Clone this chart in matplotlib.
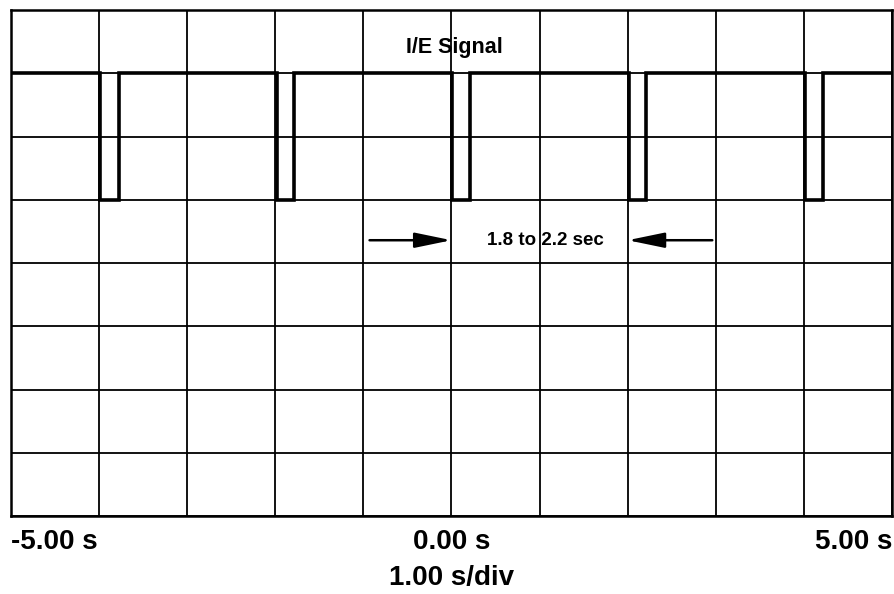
import numpy as np
import matplotlib
matplotlib.use("Agg")
import matplotlib.pyplot as plt

plt.rcParams['font.family'] = ['Liberation Sans', 'DejaVu Sans']

# ---- data ----
t_start, t_end = -5.0, 5.0
level_high = 3.0
level_low = 1.0
pulse_fall = [-3.99, -1.98, 0.01, 2.01, 4.01]
pulse_rise = [-3.77, -1.79, 0.21, 2.21, 4.22]
tick_values = [-5, 0, 5]
tick_labels = ["-5.00 s", "0.00 s", "5.00 s"]
x_label = "1.00 s/div"
signal_label = "I/E Signal"
period_label = "1.8 to 2.2 sec"
period_marks = [0.0, 2.0]

# build step waveform
xs = [t_start]
ys = [level_high]
for f, r in zip(pulse_fall, pulse_rise):
    xs += [f, f, r, r]
    ys += [level_high, level_low, level_low, level_high]
xs.append(t_end)
ys.append(level_high)

fig = plt.figure(figsize=(8.95, 5.94), dpi=100)
ax = fig.add_axes([11/895, 1 - 516/594, 881/895, 506/594])
ax.set_xlim(-5, 5)
ax.set_ylim(-4, 4)

ax.set_xticks(np.arange(-5, 6, 1))
ax.set_yticks(np.arange(-4, 5, 1))
ax.set_xticklabels([tick_labels[tick_values.index(v)] if v in tick_values else ""
                    for v in range(-5, 6)])
ax.set_yticklabels([])
ax.tick_params(length=0, pad=9.5, labelsize=20)
for lab in ax.get_xticklabels():
    lab.set_fontweight('bold')
labs = ax.get_xticklabels()
labs[0].set_ha('left')
labs[-1].set_ha('right')
ax.grid(True, color='black', lw=1.3)
ax.set_axisbelow(True)
for s in ax.spines.values():
    s.set_linewidth(1.8)

ax.set_xlabel(x_label, fontsize=20, fontweight='bold', labelpad=7)

ax.plot(xs, ys, color='black', lw=2.6, solid_joinstyle='miter', zorder=3)

ax.text(0.03, 3.41, signal_label, ha='center', va='center', fontsize=15.5,
        fontweight='bold')
ax.text(1.06, 0.36, period_label, ha='center', va='center', fontsize=13.5,
        fontweight='bold')

arrow_kw = dict(arrowstyle='-|>,head_length=1.6,head_width=0.33', lw=1.8,
                color='black', shrinkA=0, shrinkB=0, mutation_scale=14)
ax.annotate("", xy=(period_marks[0], 0.36), xytext=(-0.93, 0.36),
            arrowprops=arrow_kw)
ax.annotate("", xy=(period_marks[1], 0.36), xytext=(2.96, 0.36),
            arrowprops=arrow_kw)

fig.savefig("out.png", dpi=100)
